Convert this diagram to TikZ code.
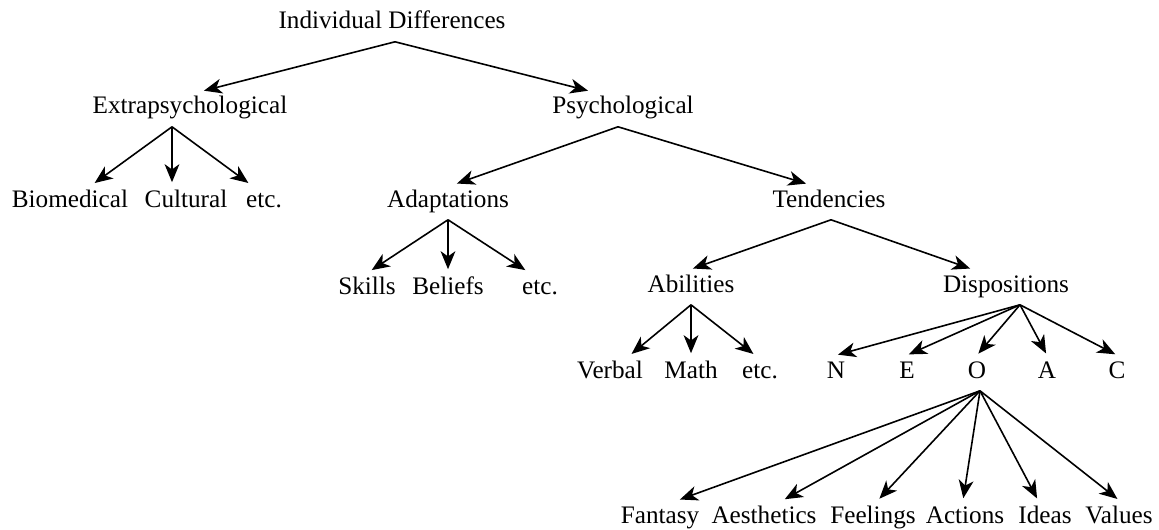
\documentclass[tikz,border=0pt]{standalone}
\usepackage{fontspec}
\setmainfont{Liberation Serif}
\usetikzlibrary{arrows.meta}

\begin{document}
\begin{tikzpicture}[x=0.5pt, y=-0.5pt, line width=0.8pt,
    >={Stealth[length=9pt, width=7.4pt, inset=2.6pt]}, shorten >=1pt,
    every node/.style={inner xsep=1pt, inner ysep=4pt, text height=0.7em, text depth=0.2em,
        font=\fontsize{12.6}{15}\selectfont}]
    \useasboundingbox (0,0) rectangle (1159,529);

    % Les sommets
    \node (ind) at (392,24) {Individual Differences};
    \node (extra) at (190,109) {Extrapsychological};
    \node (psy) at (623,109) {Psychological};

    \node (bio) at (70,202) {Biomedical};
    \node (cult) at (186,202) {Cultural};
    \node (etcA) at (264,202) {etc.};
    \node (adapt) at (448,202) {Adaptations};
    \node (tend) at (829,202) {Tendencies};

    \node (skills) at (367,289) {Skills};
    \node (beliefs) at (448,289) {Beliefs};
    \node (etcB) at (540,289) {etc.};
    \node (abil) at (691,287) {Abilities};
    \node (disp) at (1006,287) {Dispositions};

    \node (verbal) at (610,373) {Verbal};
    \node (math) at (691,373) {Math};
    \node (etcC) at (760,373) {etc.};
    \node (N) at (836,373) {N};
    \node (E) at (907,373) {E};
    \node (O) at (977,373) {O};
    \node (A) at (1047,373) {A};
    \node (C) at (1117,373) {C};

    \node (fant) at (660,518) {Fantasy};
    \node (aest) at (764,518) {Aesthetics};
    \node (feel) at (873,518) {Feelings};
    \node (act) at (965,518) {Actions};
    \node (ideas) at (1045,518) {Ideas};
    \node (val) at (1119,518) {Values};

    % Les arêtes
    \draw[->] ([xshift=1.5pt]ind.south) -- ([xshift=6pt]extra.north);
    \draw[->] ([xshift=1.5pt]ind.south) -- ([xshift=-16.5pt]psy.north);

    \draw[->] ([xshift=-9pt]extra.south) -- ([xshift=11.5pt]bio.north);
    \draw[->] ([xshift=-9pt]extra.south) -- ([xshift=-7pt]cult.north);
    \draw[->] ([xshift=-9pt]extra.south) -- ([xshift=-7pt]etcA.north);
    \draw[->] ([xshift=-2.5pt]psy.south) -- ([xshift=3.5pt]adapt.north);
    \draw[->] ([xshift=-2.5pt]psy.south) -- ([xshift=-10.5pt]tend.north);

    \draw[->] (adapt.south) -- ([xshift=1.5pt]skills.north);
    \draw[->] (adapt.south) -- (beliefs.north);
    \draw[->] (adapt.south) -- ([xshift=-6.5pt]etcB.north);
    \draw[->] ([xshift=1pt]tend.south) -- (abil.north);
    \draw[->] ([xshift=1pt]tend.south) -- ([xshift=-17pt]disp.north);

    \draw[->] (abil.south) -- ([xshift=10pt]verbal.north);
    \draw[->] (abil.south) -- (math.north);
    \draw[->] (abil.south) -- ([xshift=-2.5pt]etcC.north);
    \draw[->] ([xshift=7pt]disp.south) -- (N.north);
    \draw[->] ([xshift=7pt]disp.south) -- (E.north);
    \draw[->] ([xshift=7pt]disp.south) -- (O.north);
    \draw[->] ([xshift=7pt]disp.south) -- (A.north);
    \draw[->] ([xshift=7pt]disp.south) -- (C.north);

    \draw[->] ([xshift=1.5pt]O.south) -- ([xshift=9pt]fant.north);
    \draw[->] ([xshift=1.5pt]O.south) -- ([xshift=9.5pt]aest.north);
    \draw[->] ([xshift=1.5pt]O.south) -- ([xshift=2.5pt]feel.north);
    \draw[->] ([xshift=1.5pt]O.south) -- ([xshift=-1pt]act.north);
    \draw[->] ([xshift=1.5pt]O.south) -- ([xshift=-3.5pt]ideas.north);
    \draw[->] ([xshift=1.5pt]O.south) -- (val.north);
\end{tikzpicture}
\end{document}
